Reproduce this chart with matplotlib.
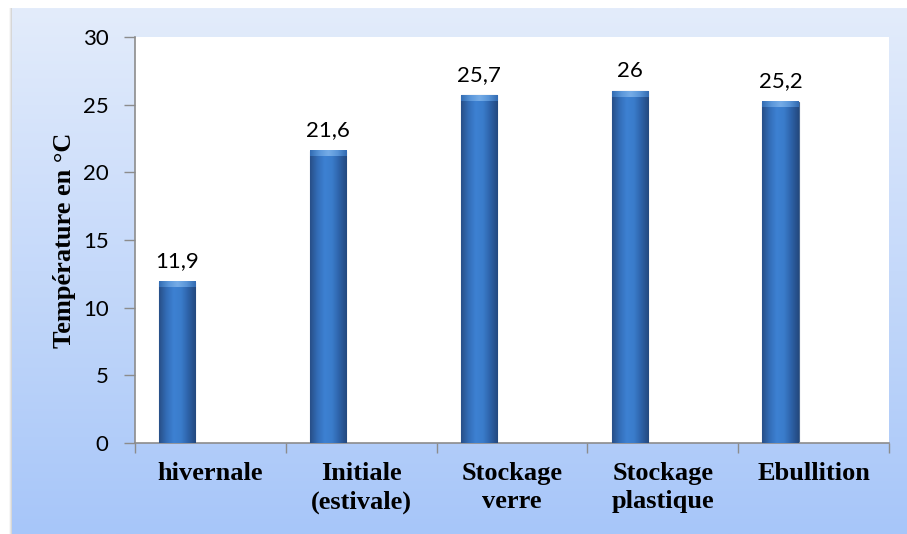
"""Bar chart: water temperature per sampling condition."""

import matplotlib
import matplotlib.pyplot as plt
import numpy as np
from matplotlib.colors import LinearSegmentedColormap

matplotlib.use("Agg")

# ---------------------------------------------------------------------------
# data
# ---------------------------------------------------------------------------
categories = ["hivernale", "Initiale\n(estivale)", "Stockage\nverre",
              "Stockage\nplastique", "Ebullition"]
temperatures = [11.9, 21.6, 25.7, 26.0, 25.2]
value_labels = ["11,9", "21,6", "25,7", "26", "25,2"]
y_ticks = [0, 5, 10, 15, 20, 25, 30]

# ---------------------------------------------------------------------------
# style
# ---------------------------------------------------------------------------
BG_TOP = "#E3ECFB"
BG_BOTTOM = "#A7C6F9"
AXIS_GREY = "#8C8C8C"
BAR_CMAP = LinearSegmentedColormap.from_list(
    "bar", ["#284F88", "#336DB8", "#3D81D2", "#3A7CCB", "#2D62A8", "#24497F"]
)
CAP_CMAP = LinearSegmentedColormap.from_list(
    "cap", ["#3570B8", "#5F9BDD", "#7DB2EA", "#5F9BDD", "#3570B8"]
)

SANS = ["Lato", "DejaVu Sans"]
SERIF = ["Liberation Serif", "DejaVu Serif"]

W, H = 907, 534
DPI = 100


def main() -> None:
    fig = plt.figure(figsize=(W / DPI, H / DPI), dpi=DPI, facecolor="white")

    # gradient background panel (with a thin shadow on the left)
    bg_left, bg_top = 12, 8
    shadow = fig.add_axes([(bg_left - 3) / W, 0, 3 / W, (H - bg_top) / H])
    shadow.imshow(np.linspace(0, 1, 20)[None, :], aspect="auto",
                  cmap=LinearSegmentedColormap.from_list("sh", ["#FFFFFF", "#D0D0D0"]),
                  extent=[0, 1, 0, 1])
    shadow.axis("off")
    bg = fig.add_axes([bg_left / W, 0, 1 - bg_left / W, (H - bg_top) / H])
    grad = np.linspace(0, 1, 256)[:, None]
    bg.imshow(grad, aspect="auto", extent=[0, 1, 0, 1], origin="upper",
              cmap=LinearSegmentedColormap.from_list("bg", [BG_TOP, BG_BOTTOM]))
    bg.axis("off")

    # plot area: x 135..889, y 37..443 (pixels)
    x0, x1, y0, y1 = 135, 889, 37, 443
    ax = fig.add_axes([x0 / W, 1 - y1 / H, (x1 - x0) / W, (y1 - y0) / H])
    ax.set_facecolor("white")

    n = len(categories)
    x = np.arange(n)
    bar_w = 0.24
    offset = -0.22
    bars = ax.bar(x + offset, temperatures, bar_w, color="#3470BC",
                  edgecolor="#4A6890", linewidth=0.8, zorder=2)

    hgrad = np.linspace(0, 1, 64)[None, :]
    for b in bars:
        bx, bw, bh = b.get_x(), b.get_width(), b.get_height()
        ax.imshow(hgrad, aspect="auto", cmap=BAR_CMAP, zorder=3,
                  extent=[bx, bx + bw, 0, bh], interpolation="bicubic")
        # lighter cap at the top of each cylinder
        ax.imshow(hgrad, aspect="auto", zorder=4, cmap=CAP_CMAP, alpha=0.9,
                  extent=[bx, bx + bw, bh - 0.4, bh], interpolation="bicubic")

    for xi, v, lab in zip(x + offset, temperatures, value_labels):
        ax.annotate(lab, (xi, v), xytext=(0, 7.5), textcoords="offset points",
                    ha="center", va="bottom", fontsize=16, family=SANS,
                    color="black", zorder=5)

    ax.set_xlim(-0.5, n - 0.5)
    ax.set_ylim(0, 30)

    # x ticks at category boundaries, labels at centres
    ax.set_xticks(np.arange(n + 1) - 0.5)
    ax.set_xticklabels([])
    ax.set_xticks(x, minor=True)
    ax.set_xticklabels(categories, minor=True, fontsize=19, family=SERIF,
                       fontweight="bold", linespacing=1.28)
    ax.tick_params(axis="x", which="major", length=7, width=1, color=AXIS_GREY,
                   direction="out")
    ax.tick_params(axis="x", which="minor", length=0, pad=14)

    ax.set_yticks(y_ticks)
    ax.set_yticklabels([str(t) for t in y_ticks], fontsize=16, family=SANS)
    ax.tick_params(axis="y", length=8, width=1, color=AXIS_GREY, pad=11,
                   direction="out")

    ax.set_ylabel("Température en °C", fontsize=19, family=SERIF,
                  fontweight="bold", va="center")
    ax.yaxis.set_label_coords((64 - x0) / (x1 - x0), 0.5)

    for side in ("top", "right"):
        ax.spines[side].set_visible(False)
    for side in ("left", "bottom"):
        ax.spines[side].set_color(AXIS_GREY)
        ax.spines[side].set_linewidth(1.2)

    fig.savefig("out.png", dpi=DPI, facecolor="white")
    plt.close(fig)


if __name__ == "__main__":
    main()
